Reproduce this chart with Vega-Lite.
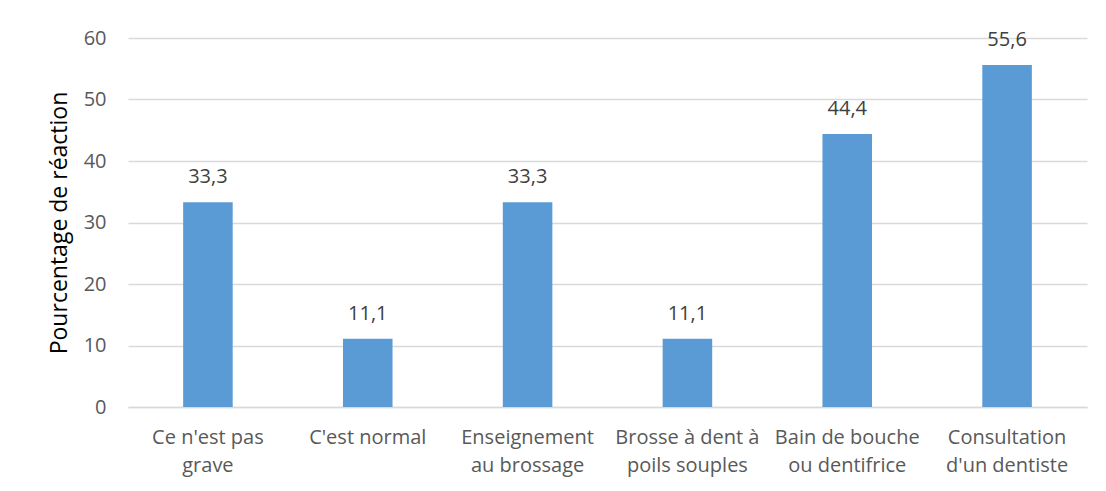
{
  "$schema": "https://vega.github.io/schema/vega-lite/v6.json",
  "width": 959,
  "height": 369,
  "autosize": {"type": "none"},
  "padding": {"left": 128, "top": 38, "right": 19, "bottom": 84},
  "background": "white",
  "data": {
    "values": [
      {"categorie": "Ce n'est pas|grave", "pct": 33.3, "etiquette": "33,3"},
      {"categorie": "C'est normal", "pct": 11.1, "etiquette": "11,1"},
      {"categorie": "Enseignement|au brossage", "pct": 33.3, "etiquette": "33,3"},
      {"categorie": "Brosse à dent à|poils souples", "pct": 11.1, "etiquette": "11,1"},
      {"categorie": "Bain de bouche|ou dentifrice", "pct": 44.4, "etiquette": "44,4"},
      {"categorie": "Consultation|d'un dentiste", "pct": 55.6, "etiquette": "55,6"}
    ]
  },
  "encoding": {
    "x": {
      "field": "categorie",
      "type": "nominal",
      "sort": null,
      "scale": {"paddingInner": 0.69, "paddingOuter": 0.345},
      "axis": {
        "title": null,
        "labelAngle": 0,
        "labelExpr": "split(datum.value, '|')",
        "labelLineHeight": 28,
        "labelFontSize": 20,
        "labelColor": "#595959",
        "labelFont": "Open Sans",
        "labelPadding": 20,
        "ticks": false,
        "domainColor": "#d9d9d9",
        "domainWidth": 1.5
      }
    },
    "y": {
      "field": "pct",
      "type": "quantitative",
      "scale": {"domain": [0, 60]},
      "axis": {
        "title": "Pourcentage de réaction",
        "titleFont": "Open Sans",
        "titleFontSize": 23,
        "titleFontWeight": "normal",
        "titleColor": "#000000",
        "titlePadding": 12,
        "values": [0, 10, 20, 30, 40, 50, 60],
        "labelFontSize": 20,
        "labelColor": "#595959",
        "labelFont": "Open Sans",
        "labelPadding": 22,
        "ticks": false,
        "domain": false,
        "gridColor": "#d9d9d9",
        "gridWidth": 1.5
      }
    }
  },
  "layer": [
    {"mark": {"type": "bar", "color": "#5b9bd5"}},
    {
      "mark": {"type": "text", "dy": -25, "fontSize": 20, "font": "Open Sans", "color": "#404040"},
      "encoding": {"text": {"field": "etiquette"}}
    }
  ],
  "config": {"view": {"stroke": null}}
}
